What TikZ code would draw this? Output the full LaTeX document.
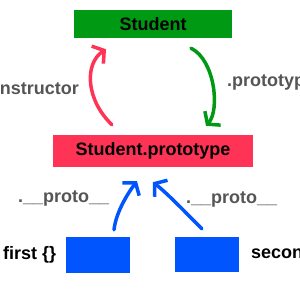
\documentclass[tikz,border=0pt]{standalone}
\usepackage{fontspec}
\setmainfont{Liberation Sans}
\usetikzlibrary{arrows.meta}
\definecolor{stugreen}{RGB}{0,153,20}
\definecolor{protored}{RGB}{255,51,85}
\definecolor{objblue}{RGB}{0,85,255}
\definecolor{labelgray}{RGB}{85,85,85}
\begin{document}
\begin{tikzpicture}[x=1pt,y=-1pt,
    box/.style={inner sep=0pt,font=\fontsize{18}{20}\selectfont\bfseries},
    lbl/.style={inner sep=0pt,text=labelgray,font=\fontsize{18}{20}\selectfont\bfseries},
    link/.style={line width=3.5pt,line cap=round,line join=round,-{Straight Barb[length=8pt,width=21pt]}}]
    \useasboundingbox (0,0) rectangle (300,300);
    \clip (0,0) rectangle (300,300);
    \node[box,fill=stugreen,minimum width=158pt,minimum height=28pt] (student) at (153,24) {Student};
    \node[box,fill=protored,minimum width=200pt,minimum height=32pt] (proto) at (153,151) {Student.prototype};
    \node[box,fill=objblue,minimum width=64pt,minimum height=36pt] (first) at (98,255) {};
    \node[box,fill=objblue,minimum width=64pt,minimum height=35pt] (second) at (207,254.5) {};
    \node[lbl,anchor=base east] (ctorlbl) at (79,94) {constructor};
    \node[lbl,anchor=base west] (protolbl) at (227,86) {.prototype};
    \node[lbl,anchor=base west] (leftlbl) at (18,202) {.\_\_proto\_\_};
    \node[lbl,anchor=base west] (rightlbl) at (186,203) {.\_\_proto\_\_};
    \node[box,anchor=base west] (firstlbl) at (3,259) {first \{\}};
    \node[box,anchor=base west] (secondlbl) at (251,258) {second \{\}};
    % hand drawn arrows
    \draw[link,protored] ([xshift=-41pt,yshift=10pt]proto.north) .. controls (86,100) and (84,64) .. ([xshift=-47pt,yshift=-11pt]student.south);
    \draw[link,stugreen] ([xshift=38pt,yshift=-10pt]student.south) .. controls (215,60) and (220,110) .. ([xshift=53pt,yshift=9pt]proto.north);
    \draw[link,objblue] ([xshift=16pt,yshift=7pt]first.north) .. controls (116,212) and (128,193) .. ([xshift=-16pt,yshift=-14pt]proto.south);
    \draw[link,objblue] ([xshift=-5pt,yshift=8pt]second.north) .. controls (185,212) and (168,194) .. ([yshift=-15pt]proto.south);
\end{tikzpicture}
\end{document}
